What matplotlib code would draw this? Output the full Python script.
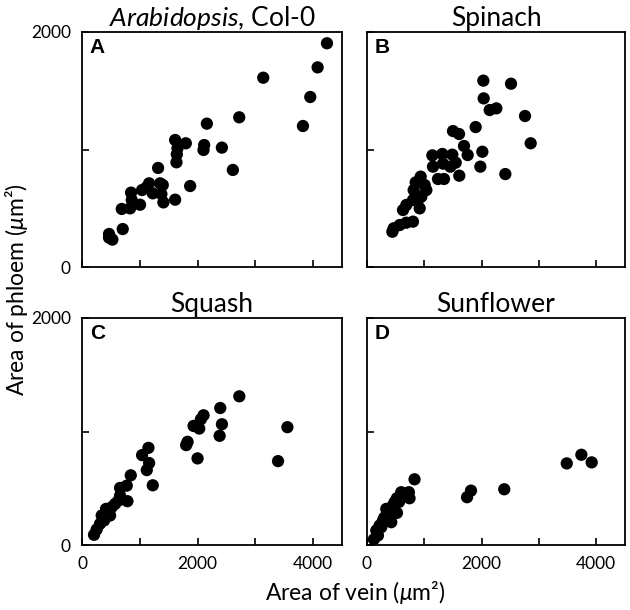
import numpy as np
import matplotlib.pyplot as plt
from matplotlib.ticker import MultipleLocator

plt.rcParams['font.family'] = ['Lato', 'DejaVu Sans']
plt.rcParams['mathtext.fontset'] = 'custom'
plt.rcParams['mathtext.rm'] = 'Lato'
plt.rcParams['mathtext.it'] = 'Lato:italic'

# Arabidopsis, Col-0
vein_a = [4240, 4078, 3137, 3951, 3824, 2721, 2161, 2421, 2114, 2103, 2611, 1612,
          1797, 1652, 1641, 1635, 1872, 1317, 1612, 1398, 1352, 1409, 1374, 1161,
          1040, 1225, 1120, 849, 861, 1005, 832, 688, 705, 468, 525, 468]
phloem_a = [1904, 1699, 1611, 1447, 1200, 1274, 1220, 1016, 1038, 996, 826, 1081,
            1053, 1010, 959, 891, 689, 843, 573, 698, 712, 550, 621, 712,
            655, 627, 680, 633, 570, 530, 499, 494, 323, 281, 233, 250]

# Spinach
vein_b = [2029, 2512, 2035, 2140, 2256, 2756, 2855, 1895, 1500, 1605, 1692, 1756,
          2012, 1977, 2413, 1610, 1140, 1314, 1488, 1547, 1453, 1326, 1151, 1238,
          1343, 936, 1006, 1035, 814, 948, 802, 919, 686, 628, 802, 686, 570, 465,
          442, 849, 890]
phloem_b = [1586, 1560, 1435, 1336, 1350, 1285, 1053, 1191, 1157, 1132, 1030, 953,
            981, 854, 791, 777, 950, 962, 956, 888, 854, 880, 854, 749,
            749, 769, 698, 655, 655, 599, 570, 499, 528, 485, 386, 377, 357, 329,
            300, 720, 570]

# Squash
vein_c = [2723, 2393, 2104, 2058, 1931, 2029, 2422, 2382, 3555, 3393, 1827, 1803,
          2000, 1150, 1040, 1162, 1121, 1225, 844, 775, 659, 659, 786, 572,
          514, 416, 486, 382, 312, 254, 208, 428, 341, 630]
phloem_c = [1310, 1207, 1143, 1108, 1049, 1026, 1064, 962, 1038, 739, 909, 880,
            763, 856, 792, 722, 660, 526, 614, 523, 503, 435, 386, 362,
            333, 318, 260, 216, 187, 137, 90, 289, 260, 391]

# Sunflower
vein_d = [3739, 3484, 3919, 2394, 1814, 1745, 829, 730, 742, 597, 522, 452,
          522, 394, 336, 423, 278, 220, 162, 120, 336, 249, 191, 481,
          640, 560, 300]
phloem_d = [795, 719, 728, 491, 479, 421, 579, 465, 412, 465, 412, 348,
            283, 304, 260, 201, 216, 172, 128, 50, 318, 157, 84, 377,
            440, 380, 240]

panels = [
    ('A', r'$\mathit{Arabidopsis}$, Col-0', vein_a, phloem_a),
    ('B', 'Spinach', vein_b, phloem_b),
    ('C', 'Squash', vein_c, phloem_c),
    ('D', 'Sunflower', vein_d, phloem_d),
]

W, H = 630, 610
fig = plt.figure(figsize=(6.3, 6.1), dpi=100)

# pixel boxes: left, top, right, bottom
boxes = [(82, 32, 342, 267), (367, 32, 625, 267),
         (82, 318, 342, 545), (367, 318, 625, 545)]

for i, ((letter, title, x, y), (l, t, r, b)) in enumerate(zip(panels, boxes)):
    ax = fig.add_axes([l / W, 1 - b / H, (r - l) / W, (b - t) / H])
    ax.scatter(x, y, s=78, color='black', edgecolors='none', zorder=3)
    ax.set_xlim(0, 4500)
    ax.set_ylim(0, 2000)
    ax.xaxis.set_major_locator(MultipleLocator(2000))
    ax.xaxis.set_minor_locator(MultipleLocator(1000))
    ax.yaxis.set_major_locator(MultipleLocator(2000))
    ax.yaxis.set_minor_locator(MultipleLocator(1000))
    ax.tick_params(which='both', direction='in', length=5, width=1.2,
                   labelsize=12.5, pad=8)
    for sp in ax.spines.values():
        sp.set_linewidth(1.3)
    if i < 2:
        ax.tick_params(labelbottom=False)
    if i % 2 == 1:
        ax.tick_params(labelleft=False)
    ax.text(0.03, 0.975, letter, transform=ax.transAxes, ha='left', va='top',
            fontsize=15, fontweight='bold', family='Liberation Sans')
    ax.set_title(title, fontsize=19, pad=4)

fig.text(355 / W, 1 - 592 / H, r'Area of vein ($\mu$m²)', ha='center', va='center',
         fontsize=16.5)
fig.text(17 / W, 1 - 290 / H, r'Area of phloem ($\mu$m²)', ha='center', va='center',
         fontsize=16.5, rotation=90)

plt.savefig('out.png')
